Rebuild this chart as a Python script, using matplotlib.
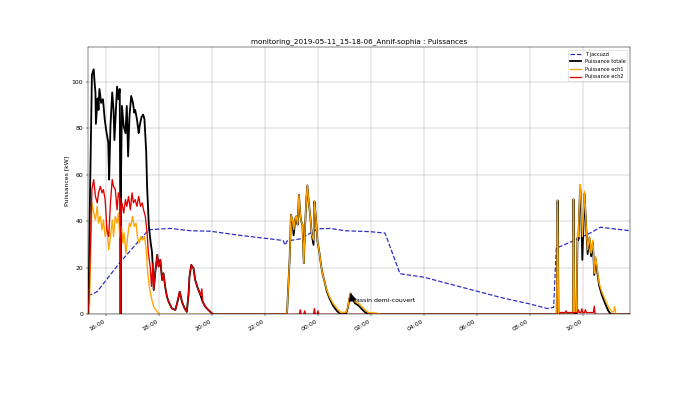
import numpy as np
import pandas as pd
import matplotlib
matplotlib.use('Agg')
import matplotlib.pyplot as plt
import matplotlib.dates as mdates

title = 'monitoring_2019-05-11_15-18-06_Annif-sophia : Puissances'

# T jaccuzzi
t_jac = ['15:19', '15:30', '15:40', '16:30', '17:36', '17:40', '18:26', '19:11', '19:56', '21:04',
         '22:12', '22:41', '22:46', '22:50', '23:20', '00:00', '00:28', '01:02', '01:58', '02:32',
         '03:06', '04:00', '05:00', '06:00', '07:00', '08:00', '08:40', '08:54', '09:00', '09:43',
         '10:17', '10:40', '11:47']
v_jac = [8.2, 8.8, 9.8, 22, 36.3, 36.5, 37, 36, 35.8, 34,
         32.5, 31.8, 29.8, 31.6, 32.5, 36.8, 37, 36, 35.6, 35,
         17.5, 16, 13, 10, 7, 4.5, 2.5, 3, 28.5, 32,
         35, 37.5, 36]

# Puissance totale
t_tot = ['15:18', '15:20', '15:24', '15:28', '15:32', '15:34', '15:36', '15:37', '15:41', '15:43',
         '15:45', '15:49', '15:53', '15:57', '16:00', '16:05', '16:07', '16:10', '16:14', '16:17',
         '16:19', '16:23', '16:25', '16:28', '16:31', '16:32', '16:33', '16:34', '16:36', '16:40',
         '16:44', '16:47', '16:50', '16:53', '16:57', '17:01', '17:04', '17:06', '17:10', '17:14',
         '17:16', '17:20', '17:24', '17:27', '17:31', '17:33', '17:37', '17:41', '17:44', '17:46',
         '17:48', '17:52', '17:56', '17:59', '18:03', '18:07', '18:10', '18:14', '18:18', '18:22',
         '18:29', '18:37', '18:41', '18:47', '18:52', '18:58', '19:03', '19:07', '19:09', '19:13',
         '19:18', '19:22', '19:28', '19:34', '19:39', '19:45', '19:52', '20:00', '20:05', '22:48',
         '22:50', '22:53', '22:56', '22:59', '23:02', '23:05', '23:09', '23:11', '23:14', '23:17',
         '23:20', '23:22', '23:25', '23:28', '23:31', '23:34', '23:36', '23:39', '23:43', '23:46',
         '23:50', '23:52', '23:55', '23:59', '00:03', '00:07', '00:11', '00:15', '00:20', '00:26',
         '00:34', '00:43', '00:50', '00:56', '01:04', '01:08', '01:11', '01:14', '01:18', '01:24',
         '01:32', '01:40', '01:47', '01:55', '08:59', '09:01', '09:03', '09:05', '09:38', '09:39',
         '09:41', '09:46', '09:48', '09:50', '09:54', '09:56', '09:59', '10:04', '10:07', '10:11',
         '10:15', '10:19', '10:23', '10:26', '10:29', '10:33', '10:37', '10:43', '10:51', '10:58',
         '11:04', '11:47']
p_tot = [0, 0, 55, 103, 105.5, 100, 95.5, 82, 93, 88,
         97, 91, 92.6, 84, 79.6, 74, 58, 81, 95.5, 88,
         75, 91, 98, 92.6, 97, 55, 0, 60, 89.7, 81,
         78, 89.7, 68, 85, 94, 91, 86.8, 88, 84, 78,
         81, 84.7, 86, 84, 70, 55, 38, 31, 27, 20.6,
         10.5, 19, 25.6, 20.6, 23.5, 14.8, 17.7, 11.9, 7.6, 5.4,
         2.6, 1.9, 4.8, 9.8, 5.4, 2.6, 1.1, 9, 16.2, 21.3,
         19.9, 14.8, 11.2, 8.3, 5.4, 3.3, 1.9, 0.4, 0, 0,
         0.4, 12.6, 24.2, 42.9, 40.7, 34, 41.5, 42.2, 38.6, 51.5,
         42.9, 40, 38.6, 22, 38.6, 50.1, 55.5, 48.6, 41.5, 34.3,
         29.9, 48.6, 42.9, 31.4, 27, 21.3, 17, 14.1, 10, 7,
         3.8, 1.5, 0.3, 0, 0.5, 3, 6.5, 9, 6.5, 4.8,
         3.8, 2.2, 0.9, 0, 0, 0, 49, 0, 0, 49.5,
         0.5, 0.5, 33, 32, 55, 50, 23.5, 52, 40, 26,
         33, 25, 31, 17, 24, 18, 12.5, 8.5, 4.5, 1.5,
         0, 0]

# Puissance ech1
t_ech1 = ['15:18', '15:22', '15:28', '15:32', '15:36', '15:40', '15:43', '15:47', '15:51', '15:54',
          '15:58', '16:02', '16:06', '16:10', '16:14', '16:17', '16:21', '16:25', '16:28', '16:31',
          '16:35', '16:38', '16:41', '16:45', '16:49', '16:53', '16:56', '17:00', '17:04', '17:08',
          '17:11', '17:15', '17:19', '17:23', '17:27', '17:31', '17:34', '17:38', '17:42', '17:48',
          '17:56', '18:03', '22:48', '22:50', '22:53', '22:56', '22:59', '23:02', '23:05', '23:09',
          '23:11', '23:14', '23:17', '23:20', '23:22', '23:25', '23:28', '23:31', '23:34', '23:36',
          '23:39', '23:43', '23:46', '23:50', '23:52', '23:55', '23:59', '00:03', '00:07', '00:11',
          '00:15', '00:20', '00:26', '00:34', '00:43', '00:50', '00:56', '01:04', '01:08', '01:11',
          '01:14', '01:18', '01:24', '01:32', '01:40', '01:47', '01:55', '02:10', '02:25', '08:59',
          '09:01', '09:03', '09:05', '09:38', '09:39', '09:41', '09:46', '09:48', '09:50', '09:54',
          '09:56', '09:59', '10:04', '10:07', '10:11', '10:15', '10:19', '10:23', '10:26', '10:29',
          '10:33', '10:37', '10:43', '10:51', '10:58', '11:06', '11:10', '11:12', '11:15', '11:17',
          '11:47']
p_ech1 = [0, 0, 48, 43.6, 40.7, 46.5, 39.3, 42.2, 36.4, 40.7,
          33.5, 37.8, 27.8, 33.5, 40.7, 33.5, 42.2, 39.3, 43.6, 33.5,
          37.8, 30.7, 35, 26.3, 33.5, 39.3, 37.8, 42.2, 37.8, 39.3,
          33.5, 30.7, 33.5, 32, 33.5, 27.8, 19.1, 12, 7.6, 3.3,
          1.1, 0, 0, 0.4, 12.6, 24.2, 42.9, 40.7, 36.5, 41.5,
          42.2, 38.6, 51.5, 42.9, 40, 38.6, 22, 38.6, 50.1, 55.5,
          48.6, 41.5, 34.3, 32, 48.6, 42.9, 31.4, 27, 21.3, 17,
          14.1, 10.5, 7.6, 4.8, 2.6, 1.1, 0.9, 1, 3.3, 6.9,
          9, 6.9, 5.4, 4.8, 3.3, 1.9, 0.8, 0.6, 0, 0,
          0, 49.4, 0, 0, 49.7, 1, 1, 35, 33.5, 55.9,
          50.8, 33.5, 53, 40.7, 27.8, 33.5, 26.3, 32, 17.7, 24.9,
          19.1, 13.4, 9.8, 6.2, 3.3, 1.1, 1, 3.3, 0.5, 0,
          0]

# Puissance ech2
t_ech2 = ['15:18', '15:21', '15:28', '15:32', '15:36', '15:40', '15:43', '15:47', '15:51', '15:54',
          '15:58', '16:02', '16:06', '16:10', '16:14', '16:17', '16:21', '16:25', '16:28', '16:32',
          '16:33', '16:34', '16:36', '16:40', '16:44', '16:47', '16:51', '16:55', '16:59', '17:02',
          '17:06', '17:10', '17:14', '17:18', '17:22', '17:25', '17:29', '17:33', '17:36', '17:40',
          '17:43', '17:46', '17:48', '17:52', '17:56', '17:59', '18:03', '18:07', '18:10', '18:14',
          '18:18', '18:22', '18:29', '18:37', '18:41', '18:47', '18:52', '18:58', '19:03', '19:07',
          '19:09', '19:13', '19:18', '19:22', '19:28', '19:34', '19:37', '19:39', '19:45', '19:52',
          '20:00', '20:05', '23:18', '23:20', '23:22', '23:28', '23:30', '23:32', '23:50', '23:52',
          '23:54', '23:58', '00:00', '00:02', '09:07', '09:09', '09:20', '09:22', '09:24', '09:48',
          '09:50', '09:52', '09:56', '09:58', '10:00', '10:04', '10:06', '10:08', '10:24', '10:26',
          '10:28', '11:47']
p_ech2 = [0, 4.8, 53.7, 58, 50.8, 48, 52.3, 55.1, 52.3, 53.7,
          49.4, 36.4, 33.5, 48, 58, 55.1, 53.7, 45, 52.3, 50,
          0, 45, 48, 43.6, 49.4, 46.5, 50.8, 45, 52.3, 48,
          49.4, 46.5, 50.8, 46.5, 48, 45, 42.2, 35, 26.3, 20.6,
          12, 22, 10.5, 19, 25.6, 20.6, 23.5, 14.8, 17.7, 11.9,
          7.6, 5.4, 2.6, 1.9, 4.8, 9.8, 5.4, 2.6, 1.1, 9,
          16.2, 21.3, 19.9, 14.8, 11.2, 8.3, 11, 5.4, 3.3, 1.9,
          0.4, 0, 0, 2, 0, 0, 1.5, 0, 0, 2.5,
          0, 0, 1.5, 0, 0, 0.8, 0.8, 1.5, 0.8, 0.8,
          2, 0.8, 0.8, 2.4, 0.8, 0.8, 2, 0.8, 0.8, 3.5,
          0, 0]


def to_dt(times):
    # times before 15:00 belong to the next day
    out = []
    for s in times:
        h = int(s[:2])
        day = '2019-05-11' if h >= 15 else '2019-05-12'
        out.append(pd.Timestamp(day + ' ' + s))
    return out


fig = plt.figure(figsize=(16, 8.983), dpi=43.75)
ax = fig.add_subplot(111)

ax.plot(to_dt(t_jac), v_jac, '--', color='#2b2bc4', lw=2, label='T jaccuzzi')
ax.plot(to_dt(t_tot), p_tot, '-', color='black', lw=3, label='Puissance totale')
ax.plot(to_dt(t_ech1), p_ech1, '-', color='orange', lw=2.2, label='Puissance ech1')
ax.plot(to_dt(t_ech2), p_ech2, '-', color='#e00000', lw=2.2, label='Puissance ech2')

ax.annotate('Bassin demi-couvert', xy=(pd.Timestamp('2019-05-12 01:14'), 9),
            xytext=(pd.Timestamp('2019-05-12 01:17'), 5.3),
            arrowprops=dict(facecolor='black', shrink=0.05))

ax.set_xlim(pd.Timestamp('2019-05-11 15:18'), pd.Timestamp('2019-05-12 11:47'))
ax.set_ylim(0, 115)
ax.xaxis.set_major_locator(mdates.HourLocator(interval=2))
ax.xaxis.set_major_formatter(mdates.DateFormatter('%H:%M'))
ax.set_ylabel('Puissances [kW]')
ax.set_title(title)
ax.grid(True)
ax.legend(loc='upper right', fontsize='small')
fig.autofmt_xdate()

fig.savefig('out.png', dpi=43.75)
